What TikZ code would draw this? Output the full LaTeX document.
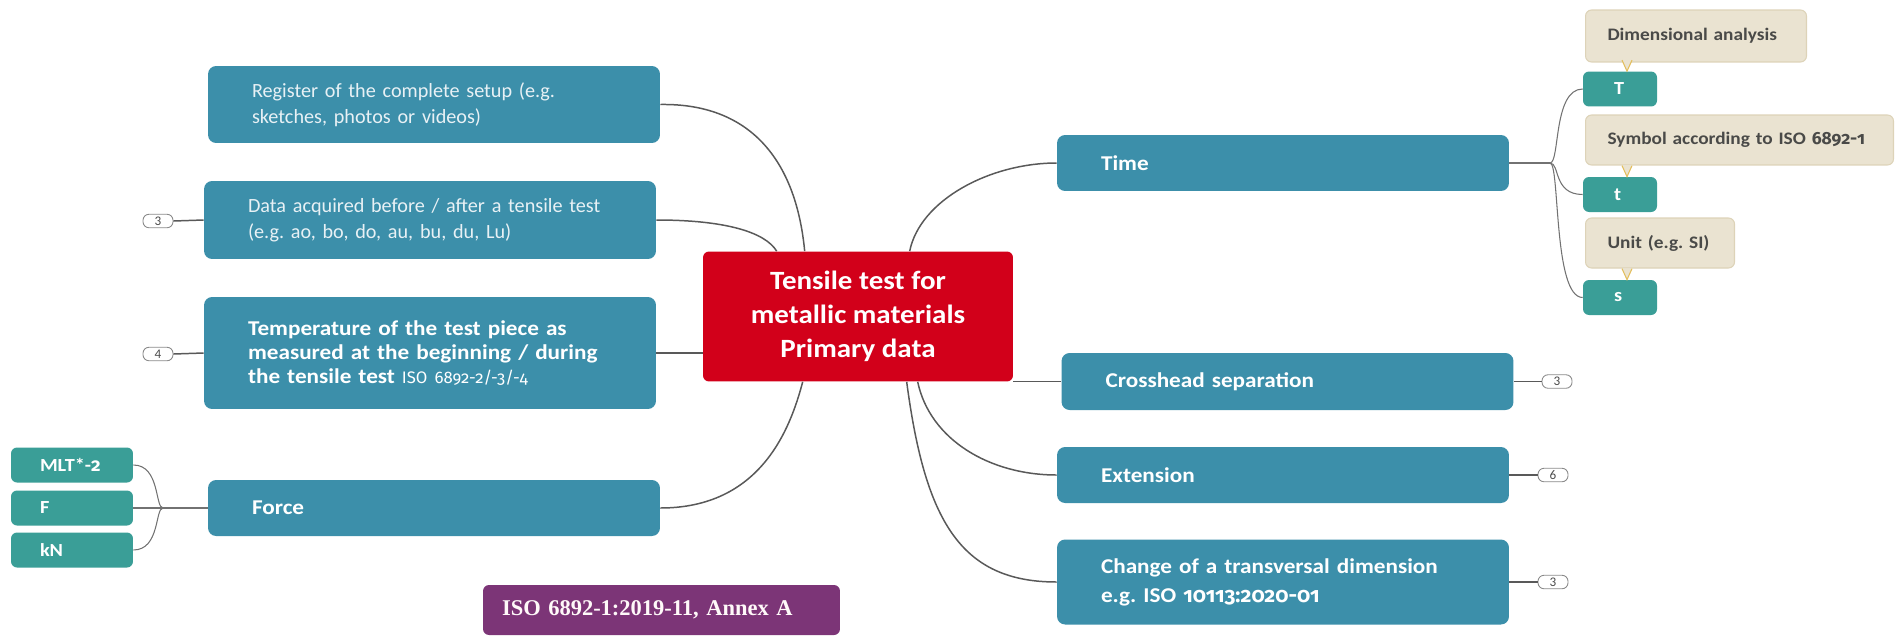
\documentclass[tikz,border=0pt]{standalone}
\usepackage{fontspec}
\setmainfont{Carlito}
\newfontfamily\wide[FakeStretch=1.1]{Carlito}
\newfontfamily\osf[Numbers=OldStyle]{Fira Sans}
\newfontfamily\isofont{Liberation Serif}
\usetikzlibrary{calc}
\frenchspacing

\definecolor{branchblue}{HTML}{3C8FAA}
\definecolor{corered}{HTML}{D2001A}
\definecolor{leafteal}{HTML}{3A9E97}
\definecolor{notefill}{HTML}{EAE3D1}
\definecolor{noteedge}{HTML}{DDD3B8}
\definecolor{notetip}{HTML}{E3BE5C}
\definecolor{normpurple}{HTML}{7C3577}
\definecolor{wire}{HTML}{595959}
\definecolor{notetext}{HTML}{4A4A48}
\definecolor{badgeedge}{HTML}{8A8A8A}

\tikzset{
  branch/.style={fill=branchblue, rounded corners=0.16cm, text=white, align=left,
    inner xsep=0.88cm, inner ysep=0pt, text width=7.28cm,
    font=\wide\fontsize{12}{13.8}\selectfont\bfseries},
  lightbranch/.style={branch, text=white!88!branchblue,
    font=\fontsize{11.5}{14.7}\selectfont},
  core/.style={fill=corered, rounded corners=0.12cm, text=white, align=center,
    minimum width=6.2cm, minimum height=2.6cm, inner sep=0pt,
    font=\wide\fontsize{15}{19.5}\selectfont\bfseries},
  leaf/.style={fill=leafteal, rounded corners=0.12cm, text=white, align=left,
    inner ysep=0pt, minimum height=0.7cm,
    font=\wide\fontsize{10.5}{12}\selectfont\bfseries},
  widleaf/.style={leaf, inner xsep=0.58cm, text width=1.28cm},
  narleaf/.style={leaf, inner xsep=0.62cm, text width=0.24cm},
  note/.style={fill=notefill, draw=noteedge, line width=0.6pt, rounded corners=0.12cm,
    text=notetext, align=left, anchor=west, inner xsep=0.44cm, inner ysep=0pt,
    font=\wide\fontsize{10}{12}\selectfont\bfseries},
  notepointer/.style={fill=notefill, draw=notetip, line width=0.6pt},
  norm/.style={fill=normpurple, rounded corners=0.12cm, text=white!90!pink,
    align=left, inner xsep=0.38cm, inner ysep=0pt, text width=6.38cm,
    minimum height=1.0cm, font=\isofont\fontsize{12.8}{14}\selectfont\bfseries},
  badge/.style={draw=badgeedge, fill=white, rounded corners=0.12cm, line width=0.5pt,
    minimum width=0.6cm, minimum height=0.27cm, inner sep=0pt,
    font=\fontsize{7.5}{7.5}\selectfont, text=black!70},
  link/.style={draw=wire, line width=0.85pt},
  fork/.style={draw=wire!85, line width=0.6pt}
}

\begin{document}
\begin{tikzpicture}[x=0.02cm, y=-0.02cm]
  \useasboundingbox (0,0) rectangle (1895,636);

  % central topic
  \node[core] (ctr) at (858,316.5) {Tensile test for\\metallic materials\\Primary data};

  % left branches
  \node[lightbranch, minimum height=1.54cm] (reg) at (434,104.5)
    {\mbox{Register of the complete setup (e.g.}\\\mbox{sketches, photos or videos)}};
  \node[lightbranch, minimum height=1.56cm] (data) at (430,220)
    {\mbox{Data acquired before / after a tensile test}\\\mbox{(e.g. ao, bo, do, au, bu, du, Lu)}};
  \node[branch, minimum height=2.24cm] (temp) at (430,353)
    {\mbox{Temperature of the test piece as}\\\mbox{measured at the beginning / during}\\\mbox{the tensile test
     {\mdseries\osf\fontsize{9.5}{12}\selectfont ISO 6892-2/-3/-4}}};
  \node[branch, minimum height=1.12cm] (force) at (434,508) {Force};

  % force details
  \node[widleaf] (mlt) at (72,465) {MLT*-{\osf 2}};
  \node[widleaf] (fsym) at (72,508) {F};
  \node[widleaf] (kn) at (72,550) {kN};

  % right branches
  \node[branch, minimum height=1.12cm] (time) at (1283,163) {Time};
  \node[branch, minimum height=1.14cm] (cross) at (1287.5,381.5) {\mbox{Crosshead separation}};
  \node[branch, minimum height=1.12cm] (ext) at (1283,475) {Extension};
  \node[branch, minimum height=1.7cm, font=\wide\fontsize{12}{16.4}\selectfont\bfseries] (chg) at (1283,582)
    {\mbox{Change of a transversal dimension}\\\mbox{e.g. ISO {\osf 10113:2020-01}}};

  % time details with their notes
  \node[narleaf] (tdim) at (1620,89) {T};
  \node[narleaf] (tsym) at (1620,194.5) {t};
  \node[narleaf] (tunit) at (1620,297.5) {s};

  \node[note, text width=3.54cm, minimum height=1.04cm] (ndim) at (1585,36) {\mbox{Dimensional analysis}};
  \node[note, text width=5.28cm, minimum height=1.0cm] (nsym) at (1585,140)
    {\mbox{Symbol according to ISO {\osf 6892-1}}};
  \node[note, text width=2.1cm, minimum height=1.0cm] (nunit) at (1585,243) {\mbox{Unit (e.g. SI)}};

  \foreach \n/\b in {ndim/tdim, nsym/tsym, nunit/tunit}{
    \path[notepointer] ($(\b.north)+(2,-11)$) -- ($(\b.north)+(7,0)$) -- ($(\b.north)+(12,-11)$);
  }

  % reference standard
  \node[norm] (iso) at (661.5,610) {ISO 6892-1:2019-11, Annex A};

  % count badges
  \node[badge] (bdata) at (158,221) {3};
  \node[badge] (btemp) at (158,354) {4};
  \node[badge] (bcross) at (1557,381.5) {3};
  \node[badge] (bext) at (1553,475) {6};
  \node[badge] (bchg) at (1553,582) {3};

  % connectors from the central topic
  \draw[link] (reg.east) .. controls (750,103) and (796,160) .. ($(ctr.north west)+(102,0)$);
  \draw[link] (data.east) .. controls (725,220) and (765,232) .. ($(ctr.north west)+(74,0)$);
  \draw[link] (temp.east) -- (temp.east -| ctr.west);
  \draw[link] ($(ctr.south west)+(100,0)$) .. controls (790,430) and (760,508) .. (force.east);
  \draw[link] ($(ctr.north west)+(207,0)$) .. controls (920,200) and (990,163) .. (time.west);
  \draw[link] (cross.west) -- (cross.west -| ctr.east);
  \draw[link] ($(ctr.south west)+(215,0)$) .. controls (930,440) and (990,475) .. (ext.west);
  \draw[link] ($(ctr.south west)+(204,0)$) .. controls (925,520) and (960,582) .. (chg.west);

  % badge links
  \draw[link] (bdata.east) -- (data.west);
  \draw[link] (btemp.east) -- (temp.west);
  \draw[link] (cross.east) -- (bcross.west);
  \draw[link] (ext.east) -- (bext.west);
  \draw[link] (chg.east) -- (bchg.west);

  % forks to the detail boxes
  \coordinate (tj) at (1550,163);
  \draw[fork] (time.east) -- (tj);
  \draw[fork] (tj) .. controls (1560,163) and (1553,89) .. (tdim.west);
  \draw[fork] (tj) .. controls (1560,163) and (1553,194.5) .. (tsym.west);
  \draw[fork] (tj) .. controls (1560,163) and (1553,297.5) .. (tunit.west);

  \coordinate (fj) at (163,508);
  \draw[fork] (force.west) -- (fj);
  \draw[fork] (fj) .. controls (155,508) and (160,465) .. (mlt.east);
  \draw[fork] (fj) -- (fsym.east);
  \draw[fork] (fj) .. controls (155,508) and (160,550) .. (kn.east);
\end{tikzpicture}
\end{document}
